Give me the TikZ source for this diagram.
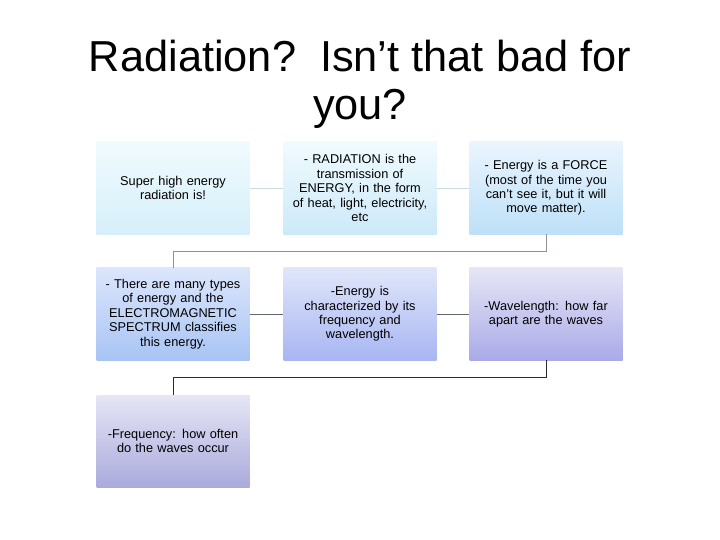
\documentclass[tikz,border=0pt]{standalone}
\usepackage{fontspec}
\setmainfont{Liberation Sans}
\usepackage{tikz}
\usetikzlibrary{positioning, calc}

\definecolor{rowAtop}{RGB}{240, 251, 254}
\definecolor{rowAbot}{RGB}{214, 239, 250}
\definecolor{rowCbot}{RGB}{190, 224, 248}
\definecolor{rowBtop}{RGB}{220, 230, 252}
\definecolor{rowBbot}{RGB}{168, 196, 244}
\definecolor{rowBbotb}{RGB}{168, 182, 242}
\definecolor{rowBbotc}{RGB}{170, 170, 232}
\definecolor{rowCtop}{RGB}{230, 230, 246}
\definecolor{rowCbotc}{RGB}{170, 170, 220}
\definecolor{linelight}{RGB}{205, 218, 222}
\definecolor{linegray}{RGB}{138, 148, 152}
\definecolor{linemid}{RGB}{96, 104, 112}
\definecolor{linedark}{RGB}{48, 40, 56}

\begin{document}
\begin{tikzpicture}[x=1bp, y=1bp,
    infobox/.style={minimum width=153bp, minimum height=92bp, text width=144bp,
      align=center, inner sep=0pt, font=\fontsize{12.8}{14.5}\selectfont},
    link/.style={line width=0.75pt}]
  \useasboundingbox (0,0) rectangle (720,-540);

  % Title
  \node[font=\fontsize{43.5}{48}\selectfont, align=center] (title) at (360,-84)
    {Radiation?\ \ Isn’t that bad for\\you?};

  % First row
  \node[infobox, top color=rowAtop, bottom color=rowAbot] (super) at (173,-188)
    {Super high energy\\radiation is!};
  \node[infobox, top color=rowAtop, bottom color=rowAbot!60!rowCbot] (transmit) at (360,-188)
    {- RADIATION is the\\transmission of\\ENERGY, in the form\\of heat, light, electricity,\\etc};
  \node[infobox, top color=rowAtop!70!rowBtop, bottom color=rowCbot] (force) at (546,-188)
    {- Energy is a FORCE\\(most of the time you\\can't see it, but it will\\move matter).};

  % Second row
  \node[infobox, top color=rowBtop, bottom color=rowBbot] (types) at (173,-314)
    {- There are many types\\of energy and the\\ELECTROMAGNETIC\\SPECTRUM classifies\\this energy.};
  \node[infobox, top color=rowBtop!60!rowCtop, bottom color=rowBbotb] (charact) at (360,-314)
    {-Energy is\\characterized by its\\frequency and\\wavelength.};
  \node[infobox, top color=rowCtop, bottom color=rowBbotc] (wavelen) at (546,-314)
    {-Wavelength: how far\\apart are the waves};

  % Third row
  \node[infobox, top color=rowCtop, bottom color=rowCbotc] (freq) at (173,-441)
    {-Frequency: how often\\do the waves occur};

  % Connectors
  \draw[link, linelight] (super) -- (transmit);
  \draw[link, linelight] (transmit) -- (force);
  \draw[link, linegray] (force.south) -- ++(0,-17) -| (types.north);
  \draw[link, linemid] (types) -- (charact);
  \draw[link, linemid] (charact) -- (wavelen);
  \draw[link, linedark] (wavelen.south) -- ++(0,-17) -| (freq.north);
\end{tikzpicture}
\end{document}
